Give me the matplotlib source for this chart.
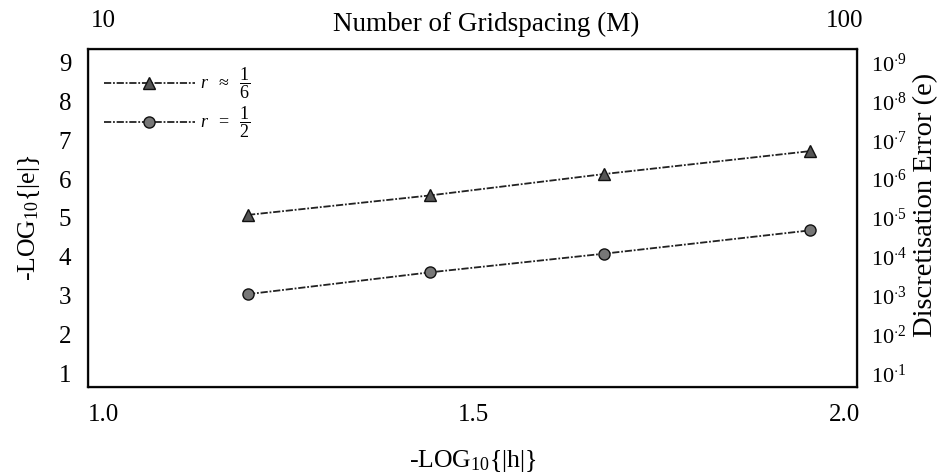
import matplotlib
matplotlib.use("Agg")
import matplotlib.pyplot as plt

plt.rcParams['font.family'] = ['Liberation Serif', 'DejaVu Serif']
plt.rcParams['mathtext.fontset'] = 'custom'
plt.rcParams['mathtext.rm'] = 'Liberation Serif'
plt.rcParams['mathtext.it'] = 'Liberation Serif:italic'

# data
x_vals = [1.195, 1.44, 1.675, 1.953]
tri_vals = [5.08, 5.58, 6.13, 6.72]
circ_vals = [3.04, 3.6, 4.08, 4.68]
series_labels = [r'$r\ \ \approx\ \ \dfrac{1}{6}$', r'$r\ \ =\ \ \dfrac{1}{2}$']
left_ticks = [1, 2, 3, 4, 5, 6, 7, 8, 9]
right_ticklabels = [r'$10^{\cdot 1}$', r'$10^{\cdot 2}$', r'$10^{\cdot 3}$', r'$10^{\cdot 4}$',
                    r'$10^{\cdot 5}$', r'$10^{\cdot 6}$', r'$10^{\cdot 7}$', r'$10^{\cdot 8}$', r'$10^{\cdot 9}$']
bottom_ticks = [1.0, 1.5, 2.0]
bottom_ticklabels = ['1.0', '1.5', '2.0']
top_ticks = [1.0, 2.0]
top_ticklabels = ['10', '100']

fig = plt.figure(figsize=(9.42, 4.75), dpi=100)
ax = fig.add_axes([88/942, 1-387/475, (857-88)/942, (387-49)/475])

ax.plot(x_vals, tri_vals, color='#222222', lw=1.3, dashes=(4, 1, 1, 1),
        marker='^', ms=8, mfc='#555555', mec='#111111', label=series_labels[0])
ax.plot(x_vals, circ_vals, color='#222222', lw=1.3, dashes=(4, 1, 1, 1),
        marker='o', ms=8, mfc='#777777', mec='#111111', label=series_labels[1])

ax.set_xlim(0.979, 2.017)
ax.set_ylim(0.65, 9.35)
ax.set_xticks(bottom_ticks)
ax.set_xticklabels(bottom_ticklabels, fontsize=18)
ax.set_yticks(left_ticks)
ax.set_yticklabels([str(v) for v in left_ticks], fontsize=18)
ax.tick_params(axis='x', length=0, pad=12)
ax.tick_params(axis='y', length=0, pad=12)
for sp in ax.spines.values():
    sp.set_linewidth(1.6)
    sp.set_color('#111111')

ax.set_xlabel(r'-LOG$_{10}${|h|}', fontsize=18.5, labelpad=16)
ax.set_ylabel(r'-LOG$_{10}${|e|}', fontsize=18.5, labelpad=12)

# right axis
axr = ax.twinx()
axr.set_ylim(ax.get_ylim())
axr.set_yticks(left_ticks)
axr.set_yticklabels(right_ticklabels, fontsize=16)
axr.tick_params(axis='y', length=0, pad=10)
fig.text(926/942, 1-205/475, 'Discretisation Error (e)', fontsize=20.5,
         rotation=90, ha='center', va='center')

# top axis
axt = ax.twiny()
axt.set_xlim(ax.get_xlim())
axt.set_xticks(top_ticks)
axt.set_xticklabels(top_ticklabels, fontsize=18)
axt.tick_params(axis='x', length=0, pad=12)
fig.text(486/942, 1-24/475, 'Number of Gridspacing (M)', fontsize=19.5,
         ha='center', va='center')

leg = ax.legend(loc='upper left', frameon=False, handlelength=5.0, fontsize=13,
                bbox_to_anchor=(0.0, 1.0), labelspacing=0.2, handletextpad=0.3)

fig.savefig('out.png', dpi=100)
